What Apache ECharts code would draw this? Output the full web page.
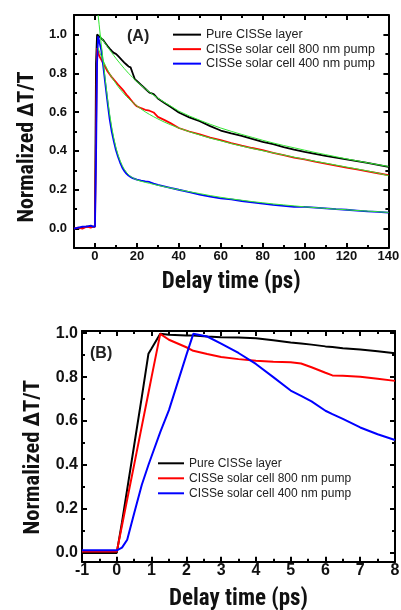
<!DOCTYPE html>
<html>
<head>
<meta charset="utf-8">
<script src="https://cdn.jsdelivr.net/npm/echarts@6/dist/echarts.min.js"></script>
<style>html,body{margin:0;padding:0;background:#fff}#c{width:401px;height:610px}</style>
</head>
<body>
<div id="c"></div>
<script>
// ---------- Data: panel A ----------
const seriesNames = ['Pure CISSe layer', 'CISSe solar cell 800 nm pump', 'CISSe solar cell 400 nm pump'];
const aTime = [-10,-8,-6,-4,-2,-1,0,0.5,1,1.5,2,3,4,5,6,7,8,9,10,11,12,13,14,15,16,17,18,19,20,22,24,26,28,30,33,36,40,45,50,55,60,65,70,75,80,85,90,95,100,105,110,115,120,125,130,135,140];
const aBlack = [0.0,0.0,0.005,0.01,0.01,0.01,0.01,0.85,1.0,0.995,0.99,0.98,0.97,0.955,0.94,0.927,0.915,0.905,0.9,0.889,0.878,0.866,0.855,0.845,0.835,0.83,0.8,0.77,0.76,0.74,0.72,0.7,0.693,0.67,0.648,0.627,0.598,0.573,0.553,0.528,0.505,0.49,0.478,0.462,0.447,0.435,0.42,0.407,0.395,0.385,0.375,0.365,0.356,0.347,0.338,0.328,0.318];
const aRed = [0.0,0.005,0.0,0.01,0.005,0.01,0.01,0.5,0.93,0.91,0.89,0.87,0.85,0.83,0.81,0.795,0.78,0.767,0.755,0.742,0.73,0.718,0.705,0.69,0.678,0.665,0.652,0.64,0.63,0.62,0.612,0.607,0.598,0.575,0.56,0.543,0.518,0.5,0.485,0.468,0.455,0.44,0.427,0.415,0.404,0.39,0.378,0.366,0.356,0.345,0.335,0.324,0.314,0.305,0.295,0.285,0.275];
const aBlue = [0.0,0.005,0.01,0.01,0.015,0.01,0.01,0.35,0.85,0.99,0.98,0.92,0.833,0.74,0.65,0.565,0.5,0.45,0.405,0.37,0.34,0.315,0.297,0.283,0.273,0.266,0.26,0.256,0.252,0.247,0.243,0.24,0.232,0.225,0.218,0.21,0.2,0.188,0.175,0.165,0.156,0.15,0.142,0.135,0.128,0.122,0.117,0.112,0.112,0.108,0.104,0.1,0.097,0.093,0.089,0.086,0.082];
// fits (green), same time grid, null where no fit
const aBlackFit = [null,null,null,null,null,null,null,null,null,null,1.0,0.985,0.967,0.951,0.936,0.921,0.906,0.891,0.877,0.863,0.85,0.837,0.824,0.812,0.8,0.789,0.778,0.767,0.757,0.738,0.72,0.703,0.687,0.672,0.651,0.632,0.605,0.58,0.558,0.537,0.518,0.501,0.485,0.47,0.455,0.441,0.428,0.416,0.404,0.392,0.381,0.37,0.359,0.349,0.339,0.329,0.32];
const aRedFit = [null,null,null,null,null,null,null,null,null,0.93,0.915,0.888,0.863,0.84,0.818,0.798,0.78,0.763,0.747,0.732,0.718,0.705,0.693,0.681,0.67,0.66,0.65,0.641,0.632,0.616,0.601,0.588,0.576,0.565,0.549,0.535,0.518,0.499,0.482,0.466,0.452,0.438,0.425,0.413,0.401,0.39,0.379,0.368,0.357,0.347,0.337,0.327,0.317,0.307,0.297,0.286,0.272];
const aBlueFit = [null,null,null,null,null,null,null,null,null,1.1,1.05,0.95,0.855,0.76,0.67,0.59,0.522,0.465,0.418,0.38,0.35,0.325,0.305,0.29,0.278,0.269,0.262,0.256,0.251,0.244,0.238,0.233,0.228,0.223,0.216,0.209,0.2,0.19,0.18,0.17,0.161,0.153,0.146,0.139,0.133,0.127,0.122,0.117,0.112,0.108,0.104,0.1,0.097,0.093,0.09,0.087,0.083];

// ---------- Data: panel B ----------
const bTime = [-1,-0.7,0,0.15,0.3,0.5,0.72,0.91,1,1.25,1.5,2,2.2,2.6,3,3.5,4,4.5,5,5.3,5.6,6,6.2,6.5,7,7.5,8];
const bBlack = [0.0,0.0,0.0,0.14,0.29,0.49,0.71,0.906,0.93,0.997,0.993,0.99,0.99,0.985,0.982,0.98,0.977,0.968,0.958,0.953,0.948,0.94,0.937,0.932,0.926,0.918,0.909];
const bRed = [0.006,0.006,0.006,0.125,0.244,0.402,0.577,0.728,0.8,0.997,0.97,0.936,0.92,0.905,0.892,0.882,0.875,0.87,0.868,0.862,0.845,0.82,0.808,0.806,0.802,0.793,0.783];
const bBlue = [0.012,0.012,0.012,0.024,0.06,0.18,0.31,0.4,0.44,0.55,0.65,0.9,0.997,0.985,0.953,0.91,0.86,0.8,0.739,0.715,0.69,0.647,0.632,0.61,0.571,0.54,0.514];

// ---------- Tick labels ----------
const aXLabels = [0,20,40,60,80,100,120,140];
const aYLabels = [0,0.2,0.4,0.6,0.8,1.0];
const bXLabels = [-1,0,1,2,3,4,5,6,7,8];
const bYLabels = [0,0.2,0.4,0.6,0.8,1.0];
const bYMinor = [0.1,0.3,0.5,0.7,0.9];

const FONT = "'Liberation Sans', Arial, sans-serif";
const NAMEFONT = "'Roboto Condensed', 'Liberation Sans', Arial, sans-serif";
const AX = {color:'#000', width:2};

// Tick-only axis: placed on the opposite side and shifted across the plot with a negative
// offset, so that its outward ticks point into the plot area.
function tickAxis(grid, min, max, position, offset, opts, withLine) {
  const o = {type:'value', gridIndex:grid, min:min, max:max, position:position, offset:offset,
    splitLine:{show:false},
    axisLine:{show:!!withLine, onZero:false, lineStyle:{color:'#000', width:2}},
    axisTick:{show:true, inside:false, length:opts.len, lineStyle:{color:'#000', width:2}},
    minorTick:{show:false},
    axisLabel:{show:false}};
  if (opts.interval !== undefined) o.interval = opts.interval;
  if (opts.splitNumber !== undefined) o.splitNumber = opts.splitNumber;
  if (opts.custom) o.axisTick.customValues = opts.custom;
  if (opts.minor) o.minorTick = {show:true, splitNumber:opts.minor, length:3, lineStyle:{color:'#000', width:2}};
  return o;
}
function mainX(grid, min, max, labels, fontSize, margin, nameGap) {
  return {type:'value', gridIndex:grid, min:min, max:max, position:'bottom', splitLine:{show:false},
    axisLine:{show:true, onZero:false, lineStyle:AX}, axisTick:{show:false},
    axisLabel:{show:true, customValues:labels, fontSize:fontSize, fontWeight:'bold', color:'#111', fontFamily:FONT, margin:margin,
      formatter:function(v){return String(v);}},
    name:'Delay time (ps)', nameLocation:'middle', nameGap:nameGap,
    nameTextStyle:{fontSize:23, fontWeight:'bold', color:'#111', fontFamily:NAMEFONT}};
}
function mainY(grid, min, max, labels, fontSize, margin, nameSize, padShift) {
  return {type:'value', gridIndex:grid, min:min, max:max, position:'left', splitLine:{show:false},
    axisLine:{show:true, onZero:false, lineStyle:AX}, axisTick:{show:false},
    axisLabel:{show:true, customValues:labels, fontSize:fontSize, fontWeight:'bold', color:'#111', fontFamily:FONT, margin:margin,
      formatter:function(v){return (+v).toFixed(1);}},
    name:'Normalized \u0394T/T', nameLocation:'middle', nameGap:34,
    nameTextStyle:{fontSize:nameSize, fontWeight:'bold', color:'#111', fontFamily:NAMEFONT, padding:[0, padShift, 0, 0]}};
}
function zip(xs, ys) { return xs.map(function(x, i){ return [x, ys[i]]; }); }
function line(name, xs, ys, color, width, axisIdx, z) {
  return {name:name, type:'line', xAxisIndex:axisIdx, yAxisIndex:axisIdx, data:zip(xs, ys),
    showSymbol:false, symbol:'none', connectNulls:false, clip:true, z:z,
    lineStyle:{color:color, width:width}, itemStyle:{color:color}, emphasis:{disabled:true}};
}
const COLORS = ['#000000', '#ff0000', '#0000ff'];
const FIT = '#33e633';

// grid geometry
const GA = {left:74, top:15, right:12.6, bottom:362};
const GB = {left:82, top:331, right:6, bottom:48.3};
const HA = 610 - GA.top - GA.bottom, WA = 401 - GA.left - GA.right;
const HB = 610 - GB.top - GB.bottom, WB = 401 - GB.left - GB.right;

const xAxes = [
  mainX(0, -10, 140, aXLabels, 13, 2, 23),                                  // 0
  tickAxis(0, -10, 140, 'top', -HA, {len:5, splitNumber:7}),                 // bottom majors
  tickAxis(0, -10, 140, 'top', -HA, {len:3, interval:20}),                   // bottom minors
  tickAxis(0, -10, 140, 'bottom', -HA, {len:5, splitNumber:7}, true),        // top majors + frame
  tickAxis(0, -10, 140, 'bottom', -HA, {len:3, interval:20}),                // top minors
  mainX(1, -1, 8, bXLabels, 16, 1, 26),                                      // 5
  tickAxis(1, -1, 8, 'top', -HB, {len:5, interval:1, minor:2}),
  tickAxis(1, -1, 8, 'bottom', -HB, {len:5, interval:1, minor:2}, true)
];
const yAxes = [
  mainY(0, -0.1, 1.1, aYLabels, 13, 7, 22, 31),                             // 0
  tickAxis(0, -0.1, 1.1, 'right', -WA, {len:5, splitNumber:6}),
  tickAxis(0, -0.1, 1.1, 'right', -WA, {len:3, interval:0.2}),
  tickAxis(0, -0.1, 1.1, 'left', -WA, {len:5, splitNumber:6}, true),
  tickAxis(0, -0.1, 1.1, 'left', -WA, {len:3, interval:0.2}),
  mainY(1, -0.04, 1.01, bYLabels, 16, 4, 22.5, 22),                         // 5
  tickAxis(1, -0.04, 1.01, 'right', -WB, {len:5, splitNumber:5}),
  tickAxis(1, -0.04, 1.01, 'right', -WB, {len:3, custom:bYMinor}),
  tickAxis(1, -0.04, 1.01, 'left', -WB, {len:5, splitNumber:5}, true),
  tickAxis(1, -0.04, 1.01, 'left', -WB, {len:3, custom:bYMinor})
];

const option = {
  animation:false,
  backgroundColor:'#ffffff',
  grid:[
    Object.assign({containLabel:false, outerBoundsMode:'none'}, GA),
    Object.assign({containLabel:false, outerBoundsMode:'none'}, GB)
  ],
  xAxis: xAxes,
  yAxis: yAxes,
  title:[
    {text:'(A)', left:127, top:29, padding:0, textStyle:{fontSize:16, fontWeight:'bold', color:'#222', fontFamily:FONT}},
    {text:'(B)', left:90, top:346, padding:0, textStyle:{fontSize:16, fontWeight:'bold', color:'#222', fontFamily:FONT}}
  ],
  legend:[
    {data:seriesNames, orient:'vertical', left:173, top:27.4, itemWidth:28, itemHeight:2, itemGap:0, icon:'rect', padding:0,
      selectedMode:false, textStyle:{fontSize:12.5, color:'#222', fontFamily:FONT, lineHeight:14.5}},
    {data:seriesNames, orient:'vertical', left:158, top:455.8, itemWidth:26, itemHeight:2, itemGap:0, icon:'rect', padding:0,
      selectedMode:false, textStyle:{fontSize:12, color:'#222', fontFamily:FONT, lineHeight:15}}
  ],
  series:[
    line(seriesNames[0], aTime, aBlack, COLORS[0], 1.8, 0, 2),
    line(seriesNames[1], aTime, aRed, COLORS[1], 1.8, 0, 2),
    line(seriesNames[2], aTime, aBlue, COLORS[2], 1.8, 0, 2),
    line('fit black', aTime, aBlackFit, FIT, 1, 0, 3),
    line('fit red', aTime, aRedFit, FIT, 1, 0, 3),
    line('fit blue', aTime, aBlueFit, FIT, 1, 0, 3),
    line(seriesNames[0], bTime, bBlack, COLORS[0], 2, 5, 2),
    line(seriesNames[1], bTime, bRed, COLORS[1], 2, 5, 2),
    line(seriesNames[2], bTime, bBlue, COLORS[2], 2, 5, 2)
  ]
};
const chart = echarts.init(document.getElementById('c'), null, {renderer:'canvas', width:401, height:610});
chart.setOption(option);
</script>
</body>
</html>
